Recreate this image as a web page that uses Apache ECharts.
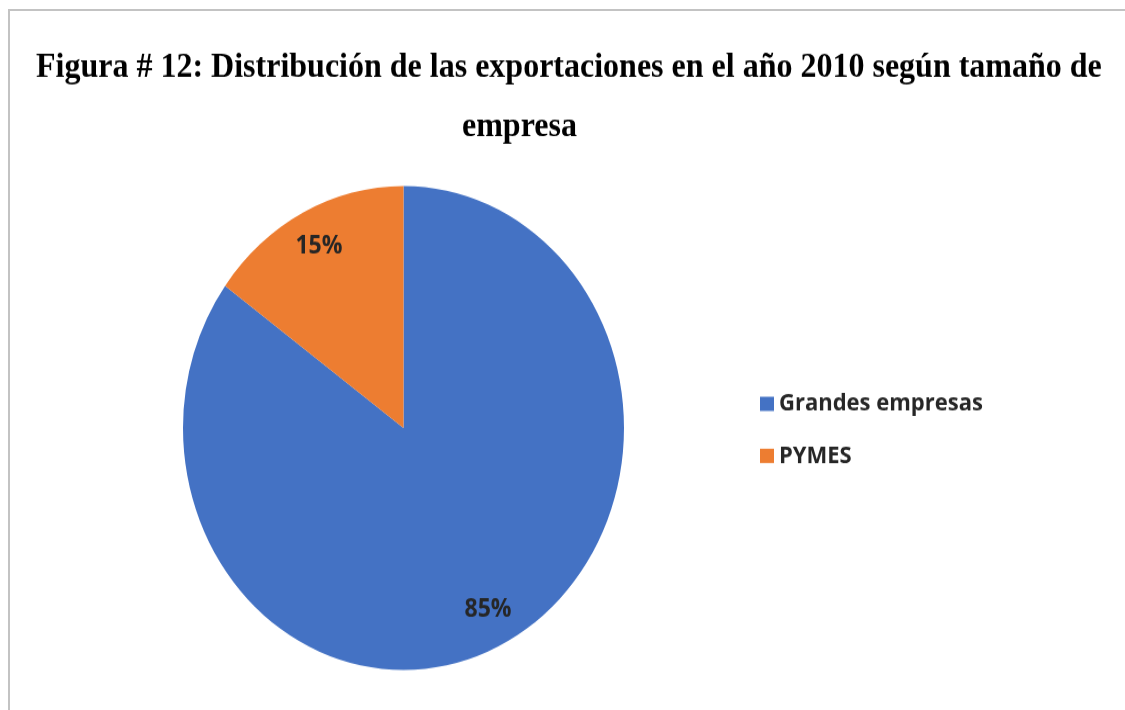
<!DOCTYPE html>
<html>
<head>
<meta charset="utf-8">
<script src="https://cdn.jsdelivr.net/npm/echarts@6/dist/echarts.min.js"></script>
<style>
  html, body { margin: 0; padding: 0; background: #fff; overflow: hidden; }
  #frame {
    position: absolute; left: 8px; top: 9px; width: 1200px; height: 800px;
    border-top: 2px solid #c3c3c3; border-left: 2px solid #c3c3c3;
    pointer-events: none;
  }
  /* the source picture is stretched vertically, so the chart is too */
  #chart {
    position: absolute; left: 0; top: 0; width: 1125px; height: 647px;
    transform: scaleY(1.0974); transform-origin: 0 0;
  }
</style>
</head>
<body>
<div id="chart"></div>
<div id="frame"></div>
<script>
const titleLines = [
  'Figura # 12: Distribución de las exportaciones en el año 2010 según tamaño de',
  'empresa'
];
const categories = ['Grandes empresas', 'PYMES'];
const shares = [85, 15];
const colors = ['#4472C4', '#ED7D31'];

const pieData = categories.map((name, i) => ({ name: name, value: shares[i] }));

const chart = echarts.init(document.getElementById('chart'), null, { width: 1125, height: 647 });

const center = [403.5, 390];
const titleFont = {
  fontFamily: 'Liberation Serif',
  fontWeight: 'bold',
  fontSize: 32,
  lineHeight: 34,
  color: '#000'
};

const option = {
  animation: false,
  color: colors,
  title: [
    { text: titleLines[0], left: 36, top: 45, padding: 0, textStyle: titleFont },
    { text: titleLines[1], left: 462, top: 98.7, padding: 0, textStyle: titleFont }
  ],
  legend: {
    orient: 'vertical',
    left: 760,
    top: 356,
    padding: 0,
    data: categories,
    icon: 'rect',
    itemWidth: 14,
    itemHeight: 13,
    itemGap: 23.4,
    textStyle: {
      fontFamily: 'Open Sans',
      fontWeight: 'bold',
      fontSize: 22,
      lineHeight: 24,
      color: '#262626'
    }
  },
  series: [
    {
      // slices
      type: 'pie',
      center: center,
      radius: [0, 220.5],
      startAngle: 90,
      clockwise: true,
      label: { show: false },
      labelLine: { show: false },
      emphasis: { disabled: true },
      itemStyle: { borderWidth: 0 },
      data: pieData
    },
    {
      // transparent ring that only carries the percentage labels
      type: 'pie',
      center: center,
      radius: [146, 220.5],
      startAngle: 90,
      clockwise: true,
      silent: true,
      legendHoverLink: false,
      itemStyle: { color: 'transparent' },
      labelLine: { show: false },
      label: {
        show: true,
        position: 'inside',
        formatter: '{c}%',
        fontFamily: 'Open Sans',
        fontWeight: 'bold',
        fontSize: 23,
        color: '#262626'
      },
      data: pieData
    }
  ]
};

chart.setOption(option);
</script>
</body>
</html>
